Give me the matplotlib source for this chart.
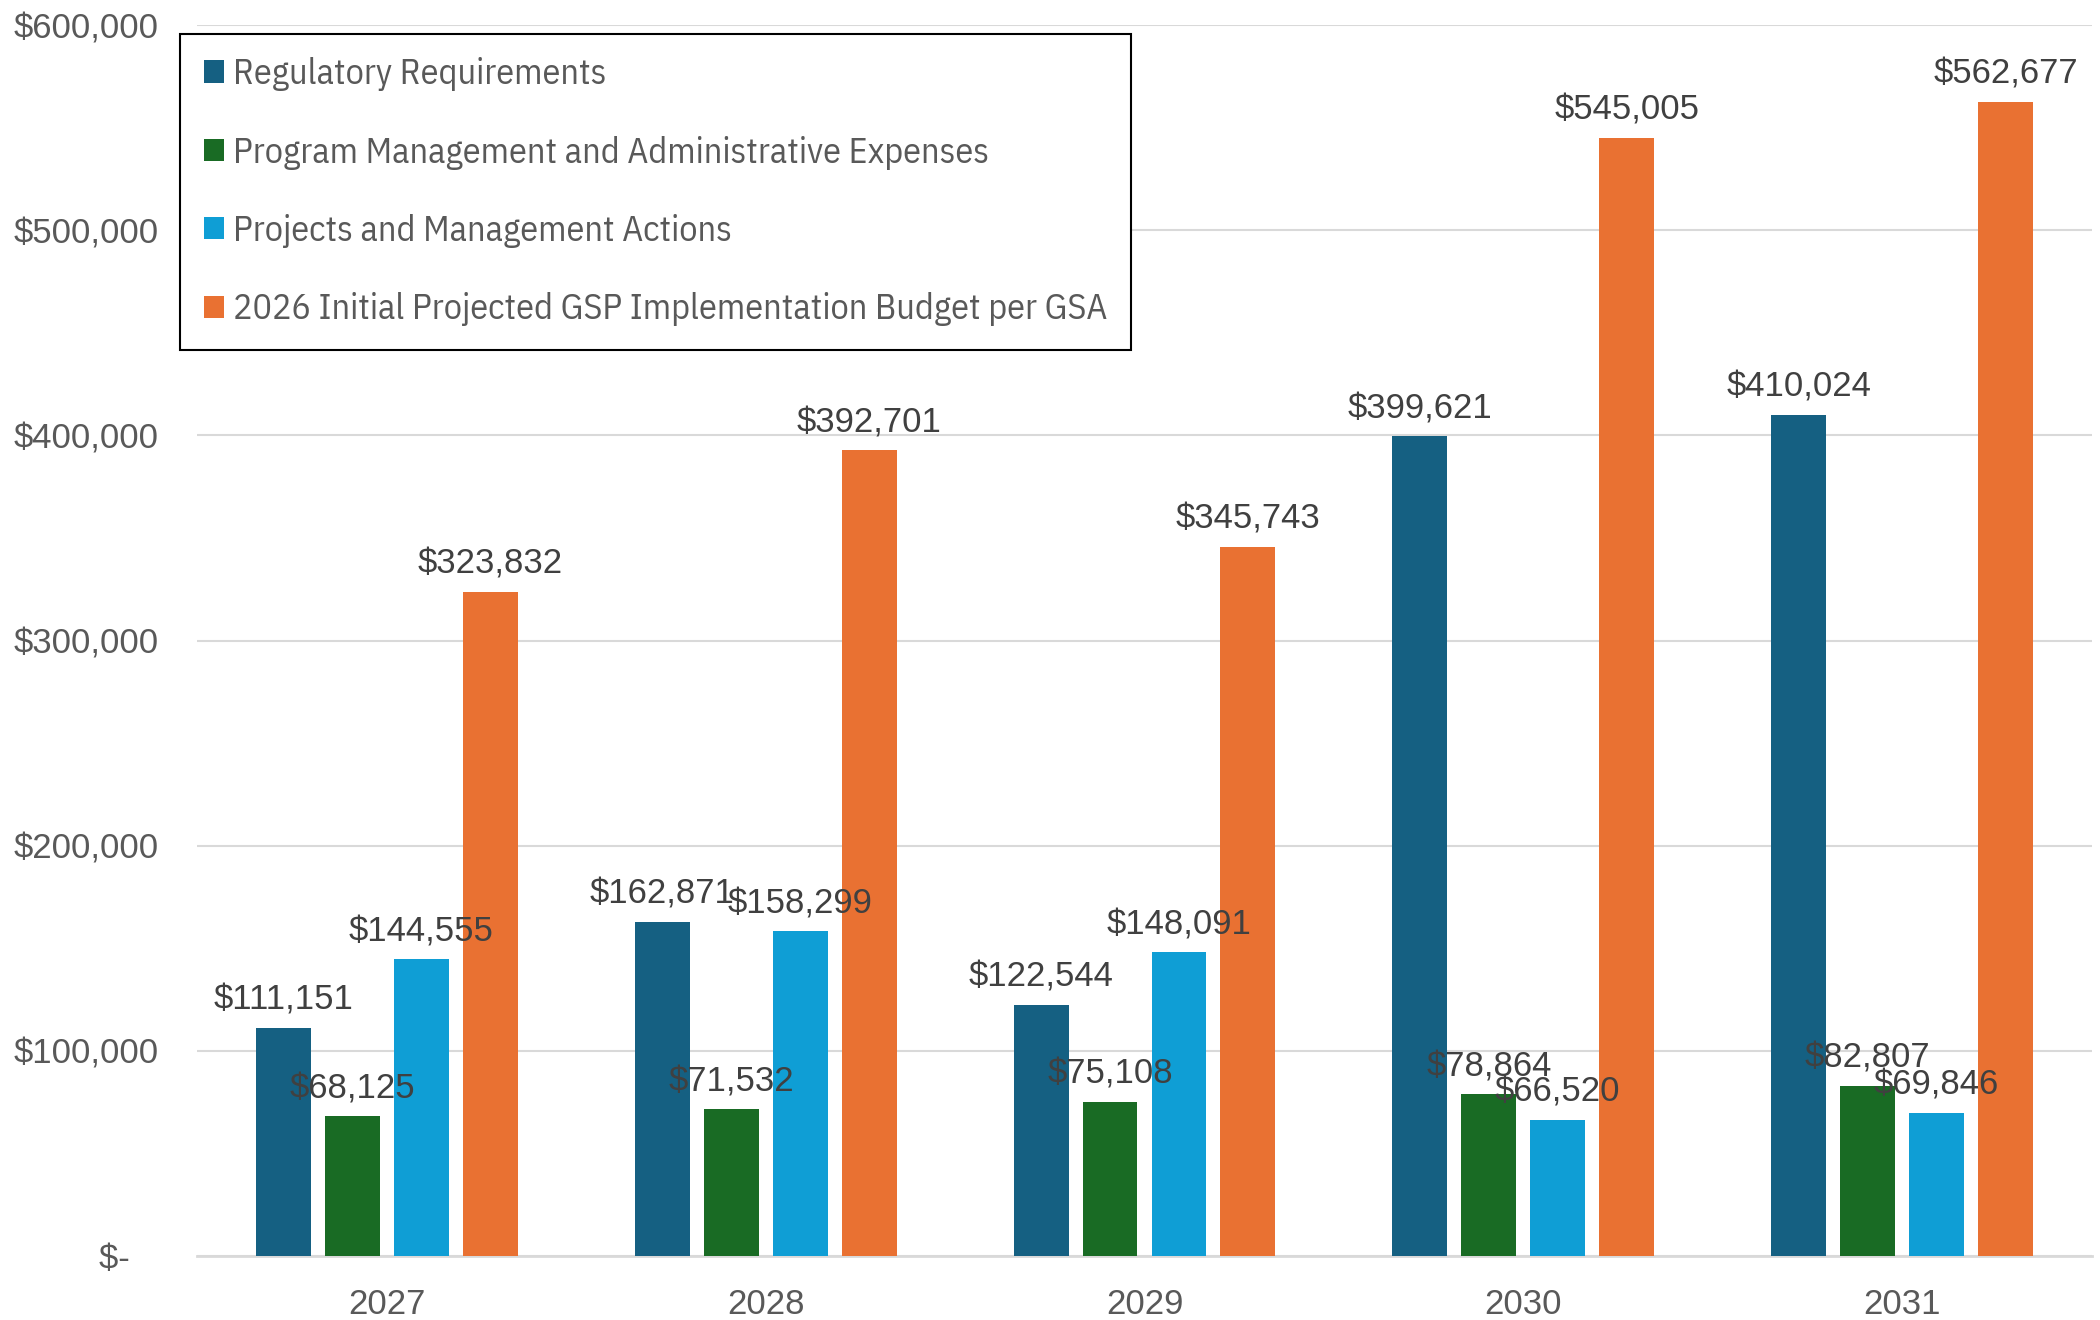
import matplotlib
matplotlib.use("Agg")
import matplotlib.pyplot as plt
import numpy as np
from matplotlib import font_manager

years = ["2027", "2028", "2029", "2030", "2031"]
series_names = [
    "Regulatory Requirements",
    "Program Management and Administrative Expenses",
    "Projects and Management Actions",
    "2026 Initial Projected GSP Implementation Budget per GSA",
]
regulatory = [111151, 162871, 122544, 399621, 410024]
program_mgmt = [68125, 71532, 75108, 78864, 82807]
projects = [144555, 158299, 148091, 66520, 69846]
budget = [323832, 392701, 345743, 545005, 562677]
colors = ["#156082", "#196B24", "#0F9ED5", "#E97132"]
yticks = [0, 100000, 200000, 300000, 400000, 500000, 600000]

names = {f.name for f in font_manager.fontManager.ttflist}
legend_font = "IBM Plex Sans Condensed" if "IBM Plex Sans Condensed" in names else "Liberation Sans"
plt.rcParams["font.family"] = ["Liberation Sans", "DejaVu Sans"]

fig = plt.figure(figsize=(21, 13.2), dpi=100)
ax = fig.add_axes([0.094, 0.0485, 0.902, 0.9325])

x = np.arange(len(years))
width = 0.145
pitch = 0.182
offsets = [-1.5 * pitch, -0.5 * pitch, 0.5 * pitch, 1.5 * pitch]
all_series = [regulatory, program_mgmt, projects, budget]
for vals, name, col, off in zip(all_series, series_names, colors, offsets):
    bars = ax.bar(x + off, vals, width, color=col, label=name, zorder=3)
    for b, v in zip(bars, vals):
        ax.annotate(f"${v:,.0f}", (b.get_x() + b.get_width() / 2, v),
                    xytext=(0, 8), textcoords="offset points",
                    ha="center", va="bottom", fontsize=25, color="#404040", zorder=4)

ax.set_xlim(-0.5, len(years) - 0.5)
ax.set_ylim(0, 600000)
ax.set_yticks(yticks)
ax.set_yticklabels(["$-   " if v == 0 else f"${v:,.0f}" for v in yticks])
ax.set_xticks(x)
ax.set_xticklabels(years)
ax.tick_params(axis="both", length=0, labelsize=25, labelcolor="#595959")
ax.tick_params(axis="y", pad=28)
ax.tick_params(axis="x", pad=23)
ax.grid(axis="y", color="#D9D9D9", linewidth=1.5, zorder=0)
for s in ["top", "right", "left"]:
    ax.spines[s].set_visible(False)
ax.spines["bottom"].set_color("#D9D9D9")
ax.spines["bottom"].set_linewidth(2)

leg = ax.legend(loc="upper left", bbox_to_anchor=(-0.009, 0.993), frameon=True,
                fancybox=False, edgecolor="black", framealpha=1,
                prop={"family": legend_font, "size": 26},
                handlelength=0.57, handleheight=0.57, handletextpad=0.25,
                labelspacing=1.23, borderpad=0.65, borderaxespad=0,
                labelcolor="#595959")
leg.get_frame().set_linewidth(1.5)

fig.savefig("out.png", dpi=100)
